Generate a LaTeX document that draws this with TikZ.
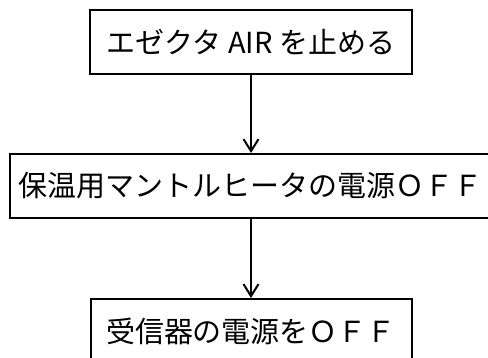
\documentclass[tikz,border=0pt]{standalone}
\usepackage{fontspec}
\newfontfamily\jpfont{Noto Sans CJK JP}
\usetikzlibrary{arrows.meta,positioning}
\tikzstyle{stepbox}=[draw=black, line width=2pt, inner sep=0pt, minimum height=64pt, font=\jpfont\fontsize{29}{31}\selectfont]
\tikzstyle{flow}=[line width=2pt, -{Straight Barb[length=12pt,width=15pt,line width=2pt]}]

\begin{document}
\begin{tikzpicture}[x=1pt, y=-1pt]
        \useasboundingbox (0,0) rectangle (488,358);
        %
        \node at (251,42.5) [stepbox, minimum width=322pt] (ejector) {エゼクタ AIR を止める};
        \node at (251,186) [stepbox, minimum width=482pt] (mantle) {保温用マントルヒータの電源ＯＦＦ};
        \node at (251,331) [stepbox, minimum width=321pt] (receiver) {受信器の電源をＯＦＦ};
        %
        \draw[flow] (ejector) -- (mantle);
        \draw[flow] (mantle) -- (receiver);
\end{tikzpicture}
\end{document}
